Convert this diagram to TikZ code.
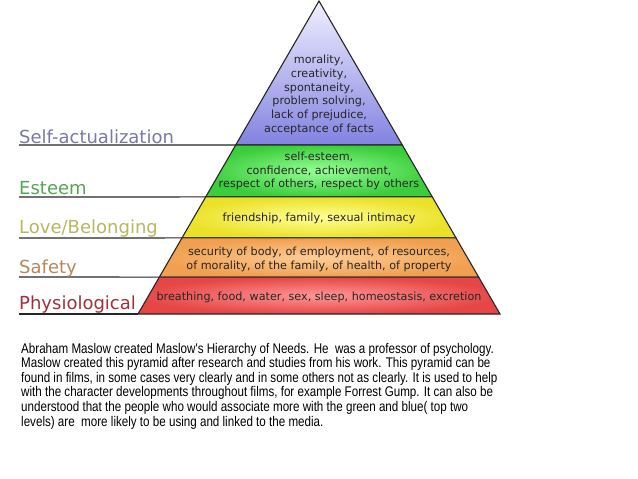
\documentclass[tikz,border=0pt]{standalone}
\usepackage{fontspec}
\setmainfont{DejaVu Sans}
\newfontfamily\paraf[FakeStretch=0.83]{Liberation Sans}
\usetikzlibrary{calc}
\definecolor{labSA}{HTML}{7878AA}
\definecolor{labES}{HTML}{52A852}
\definecolor{labLB}{HTML}{B8B85E}
\definecolor{labSF}{HTML}{B8885A}
\definecolor{labPH}{HTML}{A0303E}
\tikzset{
  layer/.style={draw=black!85, line width=1.1pt, line join=miter},
  guide/.style={draw=black!85, line width=1.1pt},
  lvl/.style={anchor=base west, inner sep=0pt, font=\fontsize{18}{20}\selectfont},
  need/.style={align=center, inner sep=0pt, text=black!85, font=\fontsize{11.2}{13.8}\selectfont},
  para/.style={anchor=base west, inner sep=0pt, font=\paraf\fontsize{14}{15}\selectfont, text=black}
}
\begin{document}
\begin{tikzpicture}[x=1pt,y=-1pt]
\useasboundingbox[fill=white] (0,0) rectangle (638,479);
\coordinate (A) at (319,1);
\coordinate (BL) at (138,314);
\coordinate (BR) at (500,314);
\coordinate (L1) at ($(A)!0.460!(BL)$);
\coordinate (R1) at ($(A)!0.460!(BR)$);
\coordinate (L2) at ($(A)!0.626!(BL)$);
\coordinate (R2) at ($(A)!0.626!(BR)$);
\coordinate (L3) at ($(A)!0.757!(BL)$);
\coordinate (R3) at ($(A)!0.757!(BR)$);
\coordinate (L4) at ($(A)!0.882!(BL)$);
\coordinate (R4) at ($(A)!0.882!(BR)$);
% layers
\path[layer, top color=blue!6, bottom color={rgb,255:red,130;green,130;blue,225}] (A) -- (R1) -- (L1) -- cycle;
\path[layer, shading=radial, inner color={rgb,255:red,150;green,255;blue,150}, outer color={rgb,255:red,60;green,205;blue,60}] (L1) -- (R1) -- (R2) -- (L2) -- cycle;
\path[layer, shading=radial, inner color={rgb,255:red,255;green,255;blue,150}, outer color={rgb,255:red,235;green,225;blue,40}] (L2) -- (R2) -- (R3) -- (L3) -- cycle;
\path[layer, shading=radial, inner color={rgb,255:red,255;green,205;blue,150}, outer color={rgb,255:red,240;green,160;blue,80}] (L3) -- (R3) -- (R4) -- (L4) -- cycle;
\path[layer, shading=radial, inner color={rgb,255:red,255;green,150;blue,150}, outer color={rgb,255:red,230;green,70;blue,70}] (L4) -- (R4) -- (BR) -- (BL) -- cycle;
% guide lines
\coordinate (G1) at (19,145);
\coordinate (G2) at (19,197);
\coordinate (G3) at (19,238);
\coordinate (G4) at (19,277);
\coordinate (G5) at (19,314);
\draw[guide] (G1) -- (L1);
\draw[guide] (G2) -- (L2);
\draw[guide] (G3) -- (L3);
\draw[guide] (G4) -- (L4);
\draw[guide] (G5) -- (BL);
% level labels
\node[lvl, text=labSA] (tSA) at (19,143) {Self-actualization};
\node[lvl, text=labES] (tES) at (19,194) {Esteem};
\node[lvl, text=labLB] (tLB) at (19,233) {Love/Belonging};
\node[lvl, text=labSF] (tSF) at (19,273) {Safety};
\node[lvl, text=labPH] (tPH) at (19,309) {Physiological};
% needs
\node[need] (nSA) at (319,95) {morality,\\creativity,\\spontaneity,\\problem solving,\\lack of prejudice,\\acceptance of facts};
\node[need] (nES) at (319,171) {self-esteem,\\confidence, achievement,\\respect of others, respect by others};
\node[need] (nLB) at (319,218) {friendship, family, sexual intimacy};
\node[need] (nSF) at (319,259.5) {security of body, of employment, of resources,\\of morality, of the family, of health, of property};
\node[need] (nPH) at (319,297) {breathing, food, water, sex, sleep, homeostasis, excretion};
% paragraph
\node[para] (p1) at (21,353) {Abraham Maslow created Maslow's Hierarchy of Needs. He\ \ was a professor of psychology.};
\node[para] (p2) at (21,367.6) {Maslow created this pyramid after research and studies from his work. This pyramid can be};
\node[para] (p3) at (21,382.2) {found in films, in some cases very clearly and in some others not as clearly. It is used to help};
\node[para] (p4) at (21,396.8) {with the character developments throughout films, for example Forrest Gump. It can also be};
\node[para] (p5) at (21,411.4) {understood that the people who would associate more with the green and blue( top two};
\node[para] (p6) at (21,426) {levels) are\ \ more likely to be using and linked to the media.};
\end{tikzpicture}
\end{document}
